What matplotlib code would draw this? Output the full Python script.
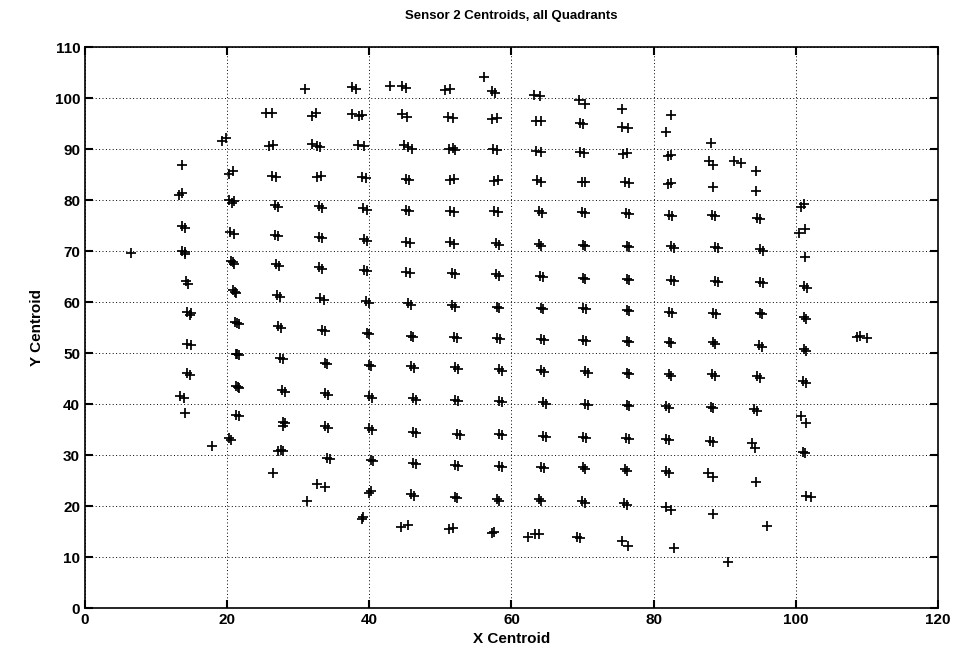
import matplotlib
matplotlib.use("Agg")
import matplotlib.pyplot as plt

plt.rcParams['font.family'] = ['Liberation Sans', 'DejaVu Sans']

# Centroid positions (x, y), listed row by row from top to bottom
x_centroid = [
    30.9, 37.6, 38.1, 42.9, 44.6, 45.1, 50.6, 51.4, 56.2, 57.2, 57.7, 63.2, 64.0, 69.5, 70.3, 75.6, 82.4,
    25.4, 26.3, 32.0, 32.5, 37.6, 38.6, 39.0, 44.6, 45.3, 51.0, 51.7, 57.3, 57.9, 63.5, 64.2, 69.7, 70.1, 75.6, 76.4, 81.8,
    19.3, 19.9, 25.9, 26.4, 32.0, 32.7, 33.0, 38.4, 39.2, 44.9, 45.5, 46.0, 51.2, 51.7, 52.0, 57.4, 58.0, 63.5, 64.1,
    69.7, 70.2, 75.7, 76.3, 82.0, 82.4, 88.0, 91.3, 92.3,
    13.7, 20.3, 20.8, 26.3, 26.9, 32.6, 33.2, 39.0, 39.5, 45.1, 45.6, 51.4, 51.9, 57.6, 58.1, 63.6, 64.1, 69.9, 70.4,
    76.0, 76.5, 82.0, 82.5, 87.8, 88.3, 88.3, 94.4, 94.4,
    13.2, 13.7, 20.2, 20.7, 20.9, 26.7, 27.2, 32.9, 33.4, 39.1, 39.6, 45.1, 45.6, 51.4, 51.9, 57.6, 58.1, 63.8, 64.3,
    69.9, 70.4, 76.1, 76.5, 82.1, 82.6, 88.2, 88.6, 94.6, 95.0, 100.7, 101.1, 100.4, 101.3,
    13.6, 14.0, 20.4, 20.9, 26.7, 27.2, 32.9, 33.4, 39.2, 39.7, 45.2, 45.7, 51.4, 51.9, 57.8, 58.2, 63.8, 64.2,
    70.0, 70.4, 76.2, 76.6, 82.4, 82.8, 88.7, 89.1, 95.0, 95.4, 101.3, 6.4,
    13.6, 14.1, 14.0, 14.2, 14.5, 20.6, 21.0, 20.8, 26.8, 27.3, 32.9, 33.4, 39.2, 39.7, 45.2, 45.7, 51.6, 52.0,
    57.8, 58.2, 64.0, 64.4, 70.0, 70.4, 76.2, 76.6, 82.4, 82.8, 88.7, 89.1, 95.0, 95.4, 101.2, 101.6,
    14.4, 14.9, 14.7, 20.8, 21.3, 21.1, 27.0, 27.5, 33.1, 33.6, 39.5, 39.9, 45.5, 45.9, 51.6, 52.0, 57.9, 58.3,
    64.1, 64.5, 70.1, 70.5, 76.2, 76.6, 82.2, 82.6, 88.4, 88.8, 94.9, 95.3, 101.2, 101.5,
    14.4, 14.9, 21.1, 21.6, 21.4, 27.2, 27.6, 33.3, 33.7, 39.6, 40.0, 45.8, 46.2, 51.9, 52.3, 58.0, 58.4,
    64.2, 64.6, 70.1, 70.5, 76.2, 76.6, 82.1, 82.5, 88.3, 88.7, 94.8, 95.2, 101.1, 101.4, 108.6, 109.1, 110.0,
    14.3, 14.8, 21.2, 21.6, 21.4, 27.4, 27.9, 33.7, 34.1, 39.9, 40.3, 45.9, 46.3, 52.1, 52.5, 58.2, 58.6,
    64.2, 64.6, 70.3, 70.7, 76.2, 76.6, 82.1, 82.5, 88.2, 88.6, 94.5, 94.9, 101.0, 101.4,
    13.4, 13.9, 14.1, 21.3, 21.7, 21.5, 27.7, 28.1, 33.8, 34.2, 40.0, 40.4, 46.1, 46.5, 52.1, 52.5, 58.3, 58.7,
    64.4, 64.8, 70.4, 70.8, 76.2, 76.6, 81.8, 82.2, 88.0, 88.4, 94.1, 94.5, 100.8, 101.5,
    21.2, 21.6, 27.8, 28.2, 27.8, 33.8, 34.2, 40.0, 40.4, 46.2, 46.6, 52.3, 52.7, 58.3, 58.7, 64.4, 64.8,
    70.1, 70.5, 76.1, 76.5, 81.8, 82.2, 87.9, 88.3, 93.9, 94.3, 101.0, 101.3, 17.9, 20.3, 20.6,
    27.2, 27.9, 27.6, 34.0, 34.4, 40.2, 40.5, 46.1, 46.5, 52.1, 52.5, 58.2, 58.6, 64.2, 64.6, 70.0, 70.4,
    75.9, 76.3, 81.8, 82.2, 87.7, 88.3, 94.4, 101.5, 102.2, 26.4,
    32.7, 33.8, 31.2, 39.9, 40.3, 45.9, 46.3, 52.0, 52.4, 57.9, 58.3, 63.8, 64.2, 69.9, 70.3, 75.8, 76.2,
    81.8, 82.5, 88.4, 96.0,
    38.9, 39.1, 44.5, 45.4, 51.2, 51.7, 57.2, 57.6, 62.3, 63.3, 63.8, 69.2, 69.6, 75.6, 76.4, 82.8, 90.5,
]

y_centroid = [
    101.7, 102.1, 101.8, 102.3, 102.4, 102.0, 101.6, 101.7, 104.2, 101.3, 101.0, 100.6, 100.3, 99.6, 98.8, 97.9, 96.7,
    97.0, 97.0, 96.5, 97.0, 96.9, 96.5, 96.7, 96.8, 96.3, 96.3, 96.1, 95.8, 96.0, 95.4, 95.5, 95.1, 94.9, 94.4, 94.2, 93.4,
    91.6, 92.2, 90.5, 90.8, 91.0, 90.6, 90.3, 90.8, 90.5, 90.7, 90.3, 90.1, 90.0, 90.2, 89.9, 90.0, 89.9, 89.6, 89.4,
    89.5, 89.3, 89.0, 89.2, 88.7, 88.9, 91.2, 87.6, 87.3,
    86.9, 85.2, 85.6, 84.8, 84.6, 84.6, 84.8, 84.5, 84.3, 84.2, 84.0, 83.9, 84.1, 83.8, 84.0, 83.9, 83.6, 83.6, 83.5,
    83.5, 83.3, 83.2, 83.4, 87.7, 86.9, 82.6, 85.6, 81.7,
    81.0, 81.3, 80.0, 79.5, 79.8, 79.1, 78.6, 78.8, 78.5, 78.4, 78.0, 78.1, 77.9, 77.8, 77.6, 77.8, 77.6, 77.8, 77.5,
    77.6, 77.4, 77.5, 77.2, 77.1, 76.9, 77.0, 76.8, 76.4, 76.2, 78.7, 79.2, 73.6, 74.3,
    74.9, 74.5, 73.8, 73.4, 73.2, 73.0, 72.8, 72.5, 72.3, 72.0, 71.8, 71.5, 71.7, 71.4, 71.5, 71.2, 71.3, 71.0,
    71.2, 70.9, 71.0, 70.8, 70.9, 70.6, 70.7, 70.5, 70.3, 70.0, 68.9, 69.7,
    70.1, 69.4, 69.8, 64.2, 63.6, 68.0, 67.5, 67.8, 67.4, 67.1, 66.8, 66.5, 66.3, 66.0, 65.9, 65.6, 65.6, 65.4,
    65.4, 65.2, 65.1, 64.9, 64.8, 64.6, 64.6, 64.4, 64.4, 64.2, 64.2, 64.0, 64.0, 63.7, 63.1, 62.7,
    58.0, 57.8, 57.5, 62.3, 61.8, 62.0, 61.4, 61.0, 60.8, 60.4, 60.2, 59.9, 59.8, 59.5, 59.4, 59.1, 59.1, 58.9,
    58.9, 58.7, 58.9, 58.6, 58.5, 58.3, 58.1, 57.9, 57.9, 57.7, 57.9, 57.6, 57.1, 56.6,
    51.7, 51.5, 56.1, 55.7, 55.9, 55.3, 54.9, 54.6, 54.3, 54.0, 53.7, 53.4, 53.1, 53.2, 52.9, 53.0, 52.8,
    52.8, 52.5, 52.6, 52.3, 52.3, 52.1, 52.1, 51.9, 52.1, 51.8, 51.5, 51.2, 50.8, 50.4, 53.2, 53.4, 53.0,
    46.0, 45.7, 49.9, 49.6, 49.8, 49.1, 48.8, 48.1, 47.8, 47.7, 47.4, 47.4, 47.1, 47.2, 46.9, 46.8, 46.5,
    46.6, 46.3, 46.4, 46.1, 46.0, 45.8, 45.8, 45.5, 45.8, 45.5, 45.4, 45.1, 44.6, 44.2,
    41.6, 41.1, 38.3, 43.6, 43.1, 43.4, 42.7, 42.4, 42.1, 41.8, 41.6, 41.2, 41.1, 40.8, 40.8, 40.5, 40.5, 40.3,
    40.3, 40.0, 40.1, 39.8, 39.9, 39.6, 39.6, 39.3, 39.5, 39.2, 39.0, 38.6, 37.6, 36.2,
    37.9, 37.6, 36.5, 36.2, 35.6, 35.6, 35.3, 35.2, 34.9, 34.6, 34.3, 34.2, 34.0, 34.2, 33.9, 33.8, 33.5,
    33.6, 33.3, 33.4, 33.1, 33.2, 32.9, 32.8, 32.5, 32.3, 31.4, 30.5, 30.3, 31.8, 33.3, 33.0,
    30.7, 30.7, 30.9, 29.5, 29.2, 29.1, 28.8, 28.5, 28.2, 28.1, 27.9, 27.9, 27.6, 27.7, 27.4, 27.6, 27.3,
    27.2, 26.9, 26.8, 26.5, 26.4, 25.6, 24.8, 21.9, 21.8, 26.4,
    24.3, 23.8, 20.9, 22.6, 22.9, 22.3, 22.0, 21.8, 21.5, 21.3, 21.0, 21.3, 21.0, 20.9, 20.6, 20.5, 20.2,
    19.9, 19.2, 18.5, 16.0,
    17.4, 17.9, 15.9, 16.3, 15.4, 15.6, 14.8, 15.0, 13.9, 14.5, 14.6, 14.0, 13.7, 13.1, 12.2, 11.7, 9.0,
]

x_ticks = [0, 20, 40, 60, 80, 100, 120]
y_ticks = [0, 10, 20, 30, 40, 50, 60, 70, 80, 90, 100, 110]

fig = plt.figure(figsize=(9.62, 6.68), dpi=100)
ax = fig.add_axes([0.0884, 0.0898, 0.8866, 0.8398])

ax.plot(x_centroid, y_centroid, linestyle='none', marker='+', color='black',
        markersize=7, markeredgewidth=1.25)

ax.set_xlim(0, 120)
ax.set_ylim(0, 110)
ax.set_xticks(x_ticks)
ax.set_yticks(y_ticks)
ax.grid(True, color='black', linestyle=(0, (1, 2.5)), linewidth=0.7)
ax.tick_params(direction='in', length=6, width=1.5, top=True, right=True,
               labelsize=11)
for lbl in ax.get_xticklabels() + ax.get_yticklabels():
    lbl.set_fontweight('bold')
for sp in ax.spines.values():
    sp.set_linewidth(1.2)

ax.set_title('Sensor 2 Centroids, all Quadrants', fontsize=9.5, fontweight='bold', pad=20)
ax.set_xlabel('X Centroid', fontsize=11, fontweight='bold', labelpad=4)
ax.set_ylabel('Y Centroid', fontsize=11, fontweight='bold', labelpad=8)

fig.savefig('out.png', dpi=100)
